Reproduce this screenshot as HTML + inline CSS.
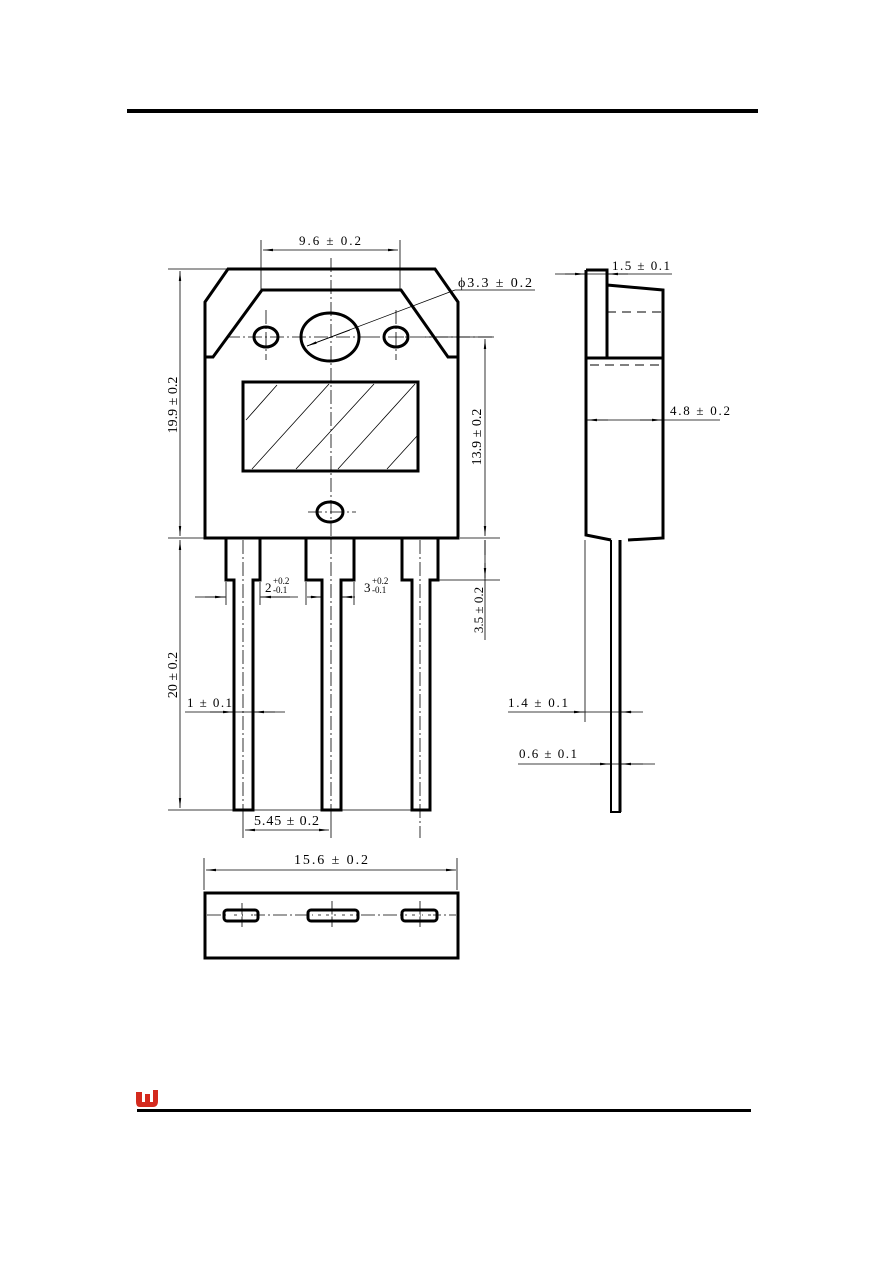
<!DOCTYPE html>
<html><head><meta charset="utf-8"><style>
html,body{margin:0;padding:0;background:#fff;}
svg{display:block;}
text{font-family:"Liberation Serif",serif;fill:#000;}
</style></head><body>
<svg width="892" height="1263" viewBox="0 0 892 1263" xmlns="http://www.w3.org/2000/svg">
<defs>
<marker id="a" viewBox="0 0 10 4" refX="10" refY="2" markerWidth="10" markerHeight="4" orient="auto-start-reverse" markerUnits="userSpaceOnUse"><path d="M0,0.8 L10,2 L0,3.2z" fill="#000"/></marker>
</defs>
<rect x="127" y="109" width="631" height="4" fill="#000"/>
<rect x="137" y="1109" width="614" height="3" fill="#000"/>
<path d="M136,1092 h6 v10 h3 v-8 h5 v8 h3 v-12 h5 v11 q0,6 -5,6 h-13 q-4,0 -4,-5z" fill="#d42a1e"/>

<g fill="none" stroke="#000">
<path d="M228,269 L435,269 L458,302 L458,538 L205,538 L205,302 Z" stroke-width="3"/>
<path d="M205,357 L213,357 L262,290 L401,290 L448,357 L458,357" stroke-width="3"/>
<ellipse cx="266" cy="337" rx="12" ry="10" stroke-width="3"/>
<ellipse cx="330" cy="337" rx="29" ry="24" stroke-width="3"/>
<ellipse cx="396" cy="337" rx="12" ry="10" stroke-width="3"/>
<ellipse cx="330" cy="512" rx="13" ry="10" stroke-width="3"/>
<rect x="243" y="382" width="175" height="89" stroke-width="3"/>
<g stroke-width="0.8">
<path d="M246,420 L277,385 M252,469 L329,384 M296,469 L374,384 M338,469 L415,384 M387,469 L417,436"/>
<path d="M331,258 V548 M226,337 H366 M266,310 V360 M396,310 V360 M308,512 H356 M243,540 V812 M331,540 V812 M420,540 V838" stroke-dasharray="14,3,2,3"/>
<path d="M366,337 H426 M390,337 H494 M207,915 H456" stroke-dasharray="14,3,2,3"/>
<path d="M261,240 V290 M400,240 V290"/>
<path d="M263,250 H398" marker-start="url(#a)" marker-end="url(#a)"/>
<path d="M168,269 H228 M168,538 H205 M168,810 H420 M425,337 H494"/>
<path d="M180,271 V536" marker-start="url(#a)" marker-end="url(#a)"/>
<path d="M180,540 V808" marker-start="url(#a)" marker-end="url(#a)"/>
<path d="M485,339 V536" marker-start="url(#a)" marker-end="url(#a)"/>
<path d="M460,538 H500 M438,580 H500 M485,540 V640"/>
<path d="M485,555 V540 M485,563 V578" marker-end="url(#a)"/>
<path d="M455,290 H535 M455,290 L307,346" />
<path d="M350,330 L307,346" marker-end="url(#a)"/>
<path d="M195,597 H226 M260,597 H298 M226,582 V605 M260,582 V605 M307,597 H322 M341,597 H355 M306,582 V605 M354,582 V605"/>
<path d="M205,597 H225" marker-end="url(#a)"/><path d="M290,597 H261" marker-end="url(#a)"/>
<path d="M310,597 H321" marker-end="url(#a)"/><path d="M352,597 H342" marker-end="url(#a)"/>
<path d="M185,712 H285"/>
<path d="M210,712 H233" marker-end="url(#a)"/><path d="M275,712 H254" marker-end="url(#a)"/>
<path d="M243,812 V838 M331,812 V838"/>
<path d="M245,830 H329" marker-start="url(#a)" marker-end="url(#a)"/>
</g>
<path d="M226,538 V580 H234 V810 H253 V580 H260 V538" stroke-width="3"/>
<path d="M306,538 V580 H322 V810 H341 V580 H354 V538" stroke-width="3"/>
<path d="M402,538 V580 H412 V810 H430 V580 H438 V538" stroke-width="3"/>

<path d="M586,270 H607 V358 M607,285 L663,290 V538 L628,540 M611,540 L586,535 V270" stroke-width="3"/>
<path d="M586,358 H663" stroke-width="3"/>
<path d="M607,312 H663 M590,365 H663" stroke-width="1" stroke-dasharray="9,6"/>
<path d="M611,540 V812 H620 V540" stroke-width="2"/>
<path d="M620,540 V812" stroke-width="3"/>
<g stroke-width="0.8">
<path d="M555,274 H672"/>
<path d="M565,274 H585" marker-end="url(#a)"/><path d="M628,274 H608" marker-end="url(#a)"/>
<path d="M586,420 H720"/>
<path d="M608,420 H587" marker-end="url(#a)"/><path d="M640,420 H662" marker-end="url(#a)"/>
<path d="M585,540 V722"/>
<path d="M508,712 H643"/>
<path d="M560,712 H584" marker-end="url(#a)"/><path d="M632,712 H621" marker-end="url(#a)"/>
<path d="M518,764 H655"/>
<path d="M590,764 H610" marker-end="url(#a)"/><path d="M643,764 H621" marker-end="url(#a)"/>
</g>

<rect x="205" y="893" width="253" height="65" stroke-width="3"/>
<g stroke-width="0.8">
<path d="M204,858 V890 M457,858 V890"/>
<path d="M206,870 H456" marker-start="url(#a)" marker-end="url(#a)"/>
<path d="M242,903 V927 M332,901 V927 M420,901 V927"/>
</g>
<rect x="224" y="910" width="34" height="11" rx="3" stroke-width="3"/>
<rect x="308" y="910" width="50" height="11" rx="3" stroke-width="3"/>
<rect x="402" y="910" width="35" height="11" rx="3" stroke-width="3"/>
</g>
<g stroke="#fff" stroke-width="2" stroke-dasharray="5,3" fill="none">
<path d="M229,915.5 H254 M313,915.5 H354 M407,915.5 H433"/>
</g>

<g font-size="13">
<text x="299" y="245" font-size="13" textLength="62">9.6 ± 0.2</text>
<text x="458" y="287" font-size="14" textLength="74">ϕ3.3 ± 0.2</text>
<text transform="translate(177 405) rotate(-90)" text-anchor="middle" font-size="14">19.9 ± 0.2</text>
<text transform="translate(481 437) rotate(-90)" text-anchor="middle" font-size="14">13.9 ± 0.2</text>
<text transform="translate(483 610) rotate(-90)" text-anchor="middle" font-size="13">3.5 ± 0.2</text>
<text transform="translate(177 675) rotate(-90)" text-anchor="middle" font-size="14">20 ± 0.2</text>
<text x="265" y="592" font-size="13">2</text>
<text x="273" y="584" font-size="9">+0.2</text>
<text x="273" y="593" font-size="9">-0.1</text>
<text x="364" y="592" font-size="13">3</text>
<text x="372" y="584" font-size="9">+0.2</text>
<text x="372" y="593" font-size="9">-0.1</text>
<text x="187" y="707" font-size="13" textLength="45">1 ± 0.1</text>
<text x="254" y="825" font-size="14" textLength="65">5.45 ± 0.2</text>
<text x="294" y="864" font-size="14" textLength="74">15.6 ± 0.2</text>
<text x="612" y="270" font-size="13" textLength="58">1.5 ± 0.1</text>
<text x="670" y="415" font-size="13" textLength="60">4.8 ± 0.2</text>
<text x="508" y="707" font-size="13" textLength="60">1.4 ± 0.1</text>
<text x="519" y="758" font-size="13" textLength="58">0.6 ± 0.1</text>
</g>
</svg>
</body></html>
